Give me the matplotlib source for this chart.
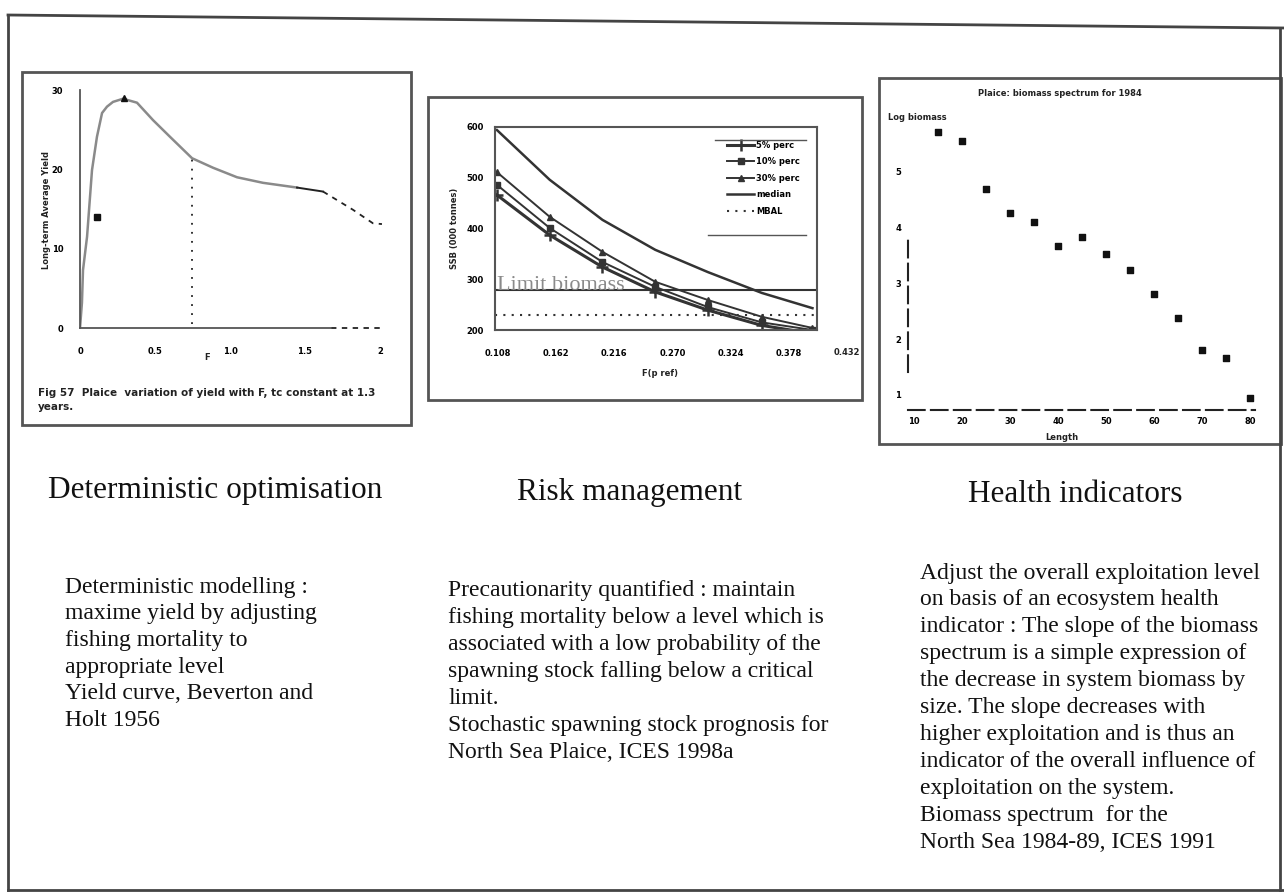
import matplotlib.pyplot as plt
from matplotlib.patches import Rectangle
from matplotlib.lines import Line2D

plt.rcParams['font.family'] = ['Liberation Serif', 'DejaVu Serif']

# --- panel 1: yield per recruit curve (Beverton & Holt) ---
yield_f = [0.0, 0.013, 0.02, 0.047, 0.08, 0.113, 0.147, 0.18, 0.22, 0.287,
           0.38, 0.487, 0.60, 0.747, 0.887, 1.047, 1.22, 1.447]
yield_val = [0.0, 3.2, 7.3, 11.5, 19.9, 24.1, 27.1, 27.9, 28.5, 28.9,
             28.4, 26.2, 24.1, 21.4, 20.2, 19.0, 18.3, 17.7]
yield_f_tail = [1.447, 1.62]
yield_tail = [17.7, 17.2]
yield_f_dash = [1.62, 1.733, 1.82, 1.953, 2.013]
yield_dash = [17.2, 15.9, 14.9, 13.2, 13.1]
fmax_point = (0.293, 29.0)
f01_point = (0.113, 14.0)
f_ref = 0.747
f_ref_yield = 21.4
yield_xticks = [0, 0.5, 1.0, 1.5, 2.0]
yield_yticks = [0, 10, 20, 30]

# --- panel 2: stochastic SSB prognosis ---
f_vals = [0.107, 0.156, 0.205, 0.254, 0.303, 0.353, 0.400]
ssb_median = [594, 496, 417, 358, 314, 273, 243]
ssb_p30 = [511, 423, 354, 295, 259, 226, 204]
ssb_p10 = [486, 401, 334, 285, 245, 215, 200]
ssb_p5 = [466, 387, 324, 275, 239, 209, 193]
limit_biomass = 279
mbal = 230
f_ticks = [0.108, 0.162, 0.216, 0.270, 0.324, 0.378]
f_tick_extra = 0.432
ssb_ticks = [200, 300, 400, 500, 600]

# --- panel 3: biomass spectrum ---
size_class = list(range(1, 15))
log_biomass = [5.70, 5.54, 4.68, 4.26, 4.10, 3.67, 3.82, 3.53, 3.24, 2.81,
               2.38, 1.81, 1.66, 0.95]
size_ticks = [0, 2, 4, 6, 8, 10, 12, 14]
size_labels = ['10', '20', '30', '40', '50', '60', '70', '80']
lb_ticks = [1, 2, 3, 4, 5]

headings = ['Deterministic optimisation', 'Risk management', 'Health indicators']
text_left = ['Deterministic modelling :',
             'maxime yield by adjusting',
             'fishing mortality to',
             'appropriate level',
             'Yield curve, Beverton and',
             'Holt 1956']
text_mid = ['Precautionarity quantified : maintain',
            'fishing mortality below a level which is',
            'associated with a low probability of the',
            'spawning stock falling below a critical',
            'limit.',
            'Stochastic spawning stock prognosis for',
            'North Sea Plaice, ICES 1998a']
text_right = ['Adjust the overall exploitation level',
              'on basis of an ecosystem health',
              'indicator : The slope of the biomass',
              'spectrum is a simple expression of',
              'the decrease in system biomass by',
              'size. The slope decreases with',
              'higher exploitation and is thus an',
              'indicator of the overall influence of',
              'exploitation on the system.',
              'Biomass spectrum  for the',
              'North Sea 1984-89, ICES 1991']

W, H = 1284, 896
fig = plt.figure(figsize=(W / 100, H / 100), dpi=100)


def rect(x0, y0, x1, y1):
    return [x0 / W, 1 - y1 / H, (x1 - x0) / W, (y1 - y0) / H]


def box(x0, y0, x1, y1, lw=2.0, color='#555555'):
    fig.add_artist(Rectangle((x0 / W, 1 - y1 / H), (x1 - x0) / W, (y1 - y0) / H,
                             transform=fig.transFigure, fill=False, lw=lw, ec=color))


def fline(xs, ys, lw=2.0, color='#444444'):
    fig.add_artist(Line2D([x / W for x in xs], [1 - y / H for y in ys],
                          transform=fig.transFigure, lw=lw, color=color))


def ftext(x, y, s, **kw):
    fig.text(x / W, 1 - y / H, s, **kw)


# outer slide frame (scan is slightly skewed)
fline([8, 1284], [15, 28])
fline([8, 8], [15, 890])
fline([8, 1284], [890, 890])
fline([1280, 1280], [28, 890])

# panel boxes
box(22, 72, 411, 425)
box(428, 97, 862, 400)
box(879, 78, 1281, 444)

small = dict(family='DejaVu Sans', fontsize=6, fontweight='bold', color='#222222')

# ---------------- panel 1 ----------------
ax1 = fig.add_axes(rect(80, 90, 383, 328))
ax1.set_xlim(0, 2.02)
ax1.set_ylim(0, 30)
ax1.plot(yield_f, yield_val, color='#8a8a8a', lw=1.8)
ax1.plot(yield_f_tail, yield_tail, color='#222222', lw=1.4)
ax1.plot(yield_f_dash, yield_dash, color='#222222', lw=1.3, ls=(0, (3, 3)))
ax1.plot([f_ref, f_ref], [0.5, f_ref_yield], color='#222222', lw=1.3, ls=(0, (1, 4)))
ax1.plot(*fmax_point, marker='^', color='#111111', ms=5)
ax1.plot(*f01_point, marker='s', color='#111111', ms=4)
for s in ['top', 'right']:
    ax1.spines[s].set_visible(False)
ax1.spines['left'].set_color('#555555')
ax1.spines['bottom'].set_color('#555555')
ax1.spines['left'].set_linewidth(1.3)
ax1.spines['bottom'].set_linewidth(1.3)
ax1.spines['bottom'].set_bounds(0, 1.67)
ax1.axhline(0, xmin=1.67 / 2.02, xmax=1, color='#222222', lw=1.3, ls=(0, (3, 3)), clip_on=False)
ax1.set_xticks(yield_xticks)
ax1.set_xticklabels(['0', '0.5', '1.0', '1.5', '2'])
ax1.set_yticks(yield_yticks)
ax1.set_yticklabels(['0', '10', '20', '30'])
ax1.tick_params(length=0, pad=14, labelsize=6)
ax1.tick_params(axis='y', pad=12)
for lab in ax1.get_xticklabels() + ax1.get_yticklabels():
    lab.set_fontfamily('DejaVu Sans')
    lab.set_fontweight('bold')
ftext(47, 210, 'Long-term Average Yield', rotation=90, ha='center', va='center', **small)
ftext(207, 357, 'F', ha='center', va='center', **small)
ftext(38, 393, 'Fig 57  Plaice  variation of yield with F, tc constant at 1.3',
      ha='left', va='center', family='DejaVu Sans', fontsize=7.5, fontweight='bold', color='#222222')
ftext(38, 407, 'years.', ha='left', va='center', family='DejaVu Sans', fontsize=7.5,
      fontweight='bold', color='#222222')

# ---------------- panel 2 ----------------
ax2 = fig.add_axes(rect(495, 127, 817, 330))
ax2.set_xlim(0.1052, 0.4042)
ax2.set_ylim(200, 600)
ax2.plot(f_vals, ssb_p5, color='#333333', lw=2.2, marker='+', ms=8, mew=1.8, label='5% perc')
ax2.plot(f_vals, ssb_p10, color='#333333', lw=1.4, marker='s', ms=5, label='10% perc')
ax2.plot(f_vals, ssb_p30, color='#333333', lw=1.4, marker='^', ms=5, label='30% perc')
ax2.plot(f_vals, ssb_median, color='#333333', lw=1.8, label='median')
ax2.axhline(mbal, color='#333333', lw=1.5, ls=(0, (1, 3)), label='MBAL')
ax2.axhline(limit_biomass, color='#333333', lw=1.5)
ax2.text(0.107, limit_biomass + 9, 'Limit biomass', fontsize=16, color='#8a8a8a',
         ha='left', va='center')
for s in ax2.spines.values():
    s.set_color('#555555')
    s.set_linewidth(1.5)
ax2.set_xticks(f_ticks)
ax2.set_xticklabels(['%.3f' % v for v in f_ticks])
ax2.text(f_tick_extra, -0.11, '%.3f' % f_tick_extra, transform=ax2.get_xaxis_transform(),
         ha='center', va='center', clip_on=False, **small)
ax2.set_yticks(ssb_ticks)
ax2.tick_params(length=0, labelsize=6)
ax2.tick_params(axis='x', pad=14)
ax2.tick_params(axis='y', pad=8)
for lab in ax2.get_xticklabels() + ax2.get_yticklabels():
    lab.set_fontfamily('DejaVu Sans')
    lab.set_fontweight('bold')
leg = ax2.legend(loc='upper right', bbox_to_anchor=(0.97, 0.97), frameon=False,
                 handlelength=3.3, labelspacing=0.9, handletextpad=0.2,
                 prop=dict(family='DejaVu Sans', size=6, weight='bold'))
fline([715, 806], [140, 140], lw=1.0, color='#555555')
fline([708, 806], [235, 235], lw=1.0, color='#555555')
ftext(455, 228, 'SSB (000 tonnes)', rotation=90, ha='center', va='center', **small)
ftext(660, 373, 'F(p ref)', ha='center', va='center', **small)

# ---------------- panel 3 ----------------
ax3 = fig.add_axes(rect(908, 110, 1255, 410))
ax3.set_xlim(-0.25, 14.2)
ax3.set_ylim(0.73, 6.1)
ax3.scatter(size_class, log_biomass, marker='s', s=22, color='#111111', zorder=3)
for s in ['top', 'right']:
    ax3.spines[s].set_visible(False)
ax3.spines['left'].set_bounds(1.41, 3.87)
ax3.spines['left'].set_linestyle((0, (8, 3)))
ax3.spines['bottom'].set_linestyle((0, (8, 3)))
ax3.spines['left'].set_color('#222222')
ax3.spines['bottom'].set_color('#222222')
ax3.spines['left'].set_linewidth(1.5)
ax3.spines['bottom'].set_linewidth(1.5)
ax3.set_xticks(size_ticks)
ax3.set_xticklabels(size_labels)
ax3.set_yticks(lb_ticks)
ax3.tick_params(length=0, labelsize=6, pad=5)
for lab in ax3.get_xticklabels() + ax3.get_yticklabels():
    lab.set_fontfamily('DejaVu Sans')
    lab.set_fontweight('bold')
ftext(1060, 93, 'Plaice: biomass spectrum for 1984', ha='center', va='center', **small)
ftext(917, 117, 'Log biomass', ha='center', va='center', **small)
ftext(1062, 437, 'Length', ha='center', va='center', **small)

# ---------------- headings and text ----------------
for (x, y), s in zip([(215, 490), (630, 492), (1075, 494)], headings):
    ftext(x, y, s, ha='center', va='center', fontsize=22.5, color='#111111')

body = dict(ha='left', va='center', fontsize=17, color='#111111')
for i, s in enumerate(text_left):
    ftext(65, 587 + 26.7 * i, s, **body)
for i, s in enumerate(text_mid):
    ftext(448, 590 + 27.0 * i, s, **body)
for i, s in enumerate(text_right):
    ftext(920, 573 + 26.9 * i, s, **body)

fig.savefig('out.png', dpi=100)
